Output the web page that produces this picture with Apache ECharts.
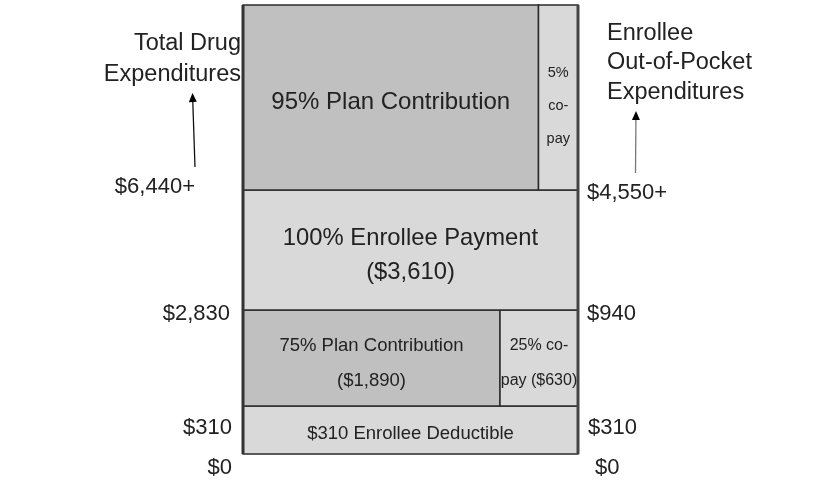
<!DOCTYPE html>
<html><head><meta charset="utf-8">
<script src="https://cdn.jsdelivr.net/npm/echarts@6/dist/echarts.min.js"></script>
<style>html,body{margin:0;padding:0;background:#fff}#c{width:814px;height:480px}</style>
</head><body><div id="c"></div>
<script>
// ---------- DATA ----------
// Total drug expenditure thresholds (left side)
const totalThresholdLabels = ['$0', '$310', '$2,830', '$6,440+'];
// Enrollee out-of-pocket thresholds (right side)
const oopThresholdLabels = ['$0', '$310', '$940', '$4,550+'];
// Benefit phases (bottom to top)
const phaseNames = ['Deductible', 'Initial coverage', 'Coverage gap', 'Catastrophic'];
// Cell texts (each phase split into plan share / enrollee share)
const cellTexts = [
  '$310 Enrollee Deductible',
  '75% Plan Contribution\n($1,890)',
  '25% co-\npay ($630)',
  '100% Enrollee Payment\n($3,610)',
  '95% Plan Contribution',
  '5%\nco-\npay'
];
const sideTitles = ['Total Drug\nExpenditures', 'Enrollee\nOut-of-Pocket\nExpenditures'];

// ---------- LAYOUT (diagram units, 1 unit ≈ 1px) ----------
const W = 335, H = 449;
const rowEdges = [0, 48, 144, 264, 449];          // band boundaries of phases
// cell: [x0, x1, phaseIndex, colorKey, fontSize, lineHeight, dy]
const cellLayout = [
  [0, 335, 0, 'light', 18.5, 24, 4],
  [0, 257, 1, 'dark', 18.5, 35, 5],
  [257, 335, 1, 'light', 16, 35, 5],
  [0, 335, 2, 'light', 23.8, 34, 5],
  [0, 295.5, 3, 'dark', 24, 30, 5],
  [295.5, 335, 3, 'light', 14.5, 33, 8]
];
const colors = { dark: '#c0c0c0', light: '#d9d9d9', edge: '#2b2b2b', text: '#222222' };
// threshold label placements: [x, y, align] in diagram units
const leftLabelPos = [[-11, -14, 'right'], [-11, 26, 'right'], [-13, 140, 'right'], [-48, 267, 'right']];
const rightLabelPos = [[352, -14, 'left'], [345, 26, 'left'], [344, 140, 'left'], [344, 261, 'left']];
const titlePos = [[-2, 395, 'right', 31], [364, 391, 'left', 29.5]];
const arrows = [[-48, 287, -50.5, 361, '#111'], [392.5, 281, 393, 343, '#777']];

const cellData = cellLayout.map((c, i) => [c[0], c[1], rowEdges[c[2]], rowEdges[c[2] + 1], i]);

const chart = echarts.init(document.getElementById('c'), null, { renderer: 'canvas' });
const FF = '"Liberation Sans", Arial, sans-serif';

chart.setOption({
  animation: false,
  backgroundColor: '#ffffff',
  grid: { left: 243, right: 236, top: 5, bottom: 26 },
  xAxis: { type: 'value', min: 0, max: W, show: false },
  yAxis: { type: 'value', min: 0, max: H, show: false },
  series: [
    {
      type: 'custom',
      clip: false,
      data: cellData,
      renderItem: function (params, api) {
        const i = api.value(4);
        const lay = cellLayout[i];
        const p0 = api.coord([api.value(0), api.value(3)]);
        const p1 = api.coord([api.value(1), api.value(2)]);
        const x = p0[0], y = p0[1], w = p1[0] - p0[0], h = p1[1] - p0[1];
        return {
          type: 'group',
          children: [
            { type: 'rect', shape: { x: x, y: y, width: w, height: h },
              style: { fill: colors[lay[3]], stroke: colors.edge, lineWidth: 1.5 } },
            { type: 'text', x: x + w / 2, y: y + h / 2 + lay[6],
              style: { text: cellTexts[i], fill: colors.text, font: lay[4] + 'px ' + FF,
                align: 'center', verticalAlign: 'middle', lineHeight: lay[5] } }
          ]
        };
      }
    },
    {
      // outer frame with heavier sides
      type: 'custom',
      clip: false,
      data: [[0, W, 0, H]],
      renderItem: function (params, api) {
        const p0 = api.coord([api.value(0), api.value(3)]);
        const p1 = api.coord([api.value(1), api.value(2)]);
        return {
          type: 'group',
          children: [
            { type: 'line', shape: { x1: p0[0], y1: p0[1], x2: p0[0], y2: p1[1] },
              style: { stroke: '#333', lineWidth: 3 } },
            { type: 'line', shape: { x1: p1[0], y1: p0[1], x2: p1[0], y2: p1[1] },
              style: { stroke: '#444', lineWidth: 3 } }
          ]
        };
      }
    },
    {
      // threshold labels
      type: 'custom',
      clip: false,
      data: totalThresholdLabels.map((t, i) => [leftLabelPos[i][0], leftLabelPos[i][1], 0, i])
        .concat(oopThresholdLabels.map((t, i) => [rightLabelPos[i][0], rightLabelPos[i][1], 1, i])),
      renderItem: function (params, api) {
        const side = api.value(2), i = api.value(3);
        const p = api.coord([api.value(0), api.value(1)]);
        const txt = side === 0 ? totalThresholdLabels[i] : oopThresholdLabels[i];
        const al = side === 0 ? leftLabelPos[i][2] : rightLabelPos[i][2];
        return { type: 'text', x: p[0], y: p[1],
          style: { text: txt, fill: colors.text, font: '22px ' + FF, align: al, verticalAlign: 'middle' } };
      }
    },
    {
      // side titles
      type: 'custom',
      clip: false,
      data: titlePos.map((t, i) => [t[0], t[1], i]),
      renderItem: function (params, api) {
        const i = api.value(2);
        const p = api.coord([api.value(0), api.value(1)]);
        return { type: 'text', x: p[0], y: p[1],
          style: { text: sideTitles[i], fill: colors.text, font: '23.5px ' + FF,
            align: titlePos[i][2], verticalAlign: 'middle', lineHeight: titlePos[i][3] } };
      }
    },
    {
      // arrows
      type: 'custom',
      clip: false,
      data: arrows.map((a, i) => [a[0], a[1], a[2], a[3], i]),
      renderItem: function (params, api) {
        const i = api.value(4);
        const a = api.coord([api.value(0), api.value(1)]);
        const b = api.coord([api.value(2), api.value(3)]);
        const dx = b[0] - a[0], dy = b[1] - a[1];
        const L = Math.sqrt(dx * dx + dy * dy);
        const ux = dx / L, uy = dy / L;
        const hl = 9, hw = 4;
        const bx = b[0] - ux * hl, by = b[1] - uy * hl;
        return {
          type: 'group',
          children: [
            { type: 'line', shape: { x1: a[0], y1: a[1], x2: bx, y2: by },
              style: { stroke: arrows[i][4], lineWidth: 1.3 } },
            { type: 'polygon', shape: { points: [[b[0], b[1]], [bx - uy * hw, by + ux * hw], [bx + uy * hw, by - ux * hw]] },
              style: { fill: '#000' } }
          ]
        };
      }
    }
  ]
});
</script>
</body></html>
